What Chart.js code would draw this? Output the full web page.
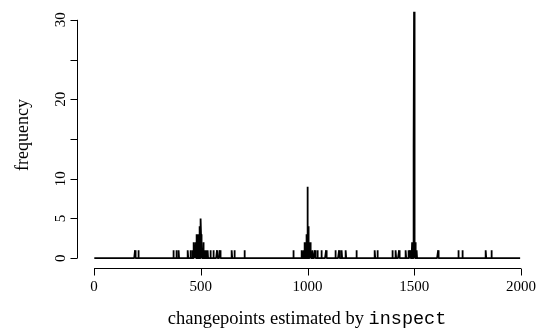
<!DOCTYPE html>
<html>
<head>
<meta charset="utf-8">
<script src="https://cdn.jsdelivr.net/npm/chart.js@4/dist/chart.umd.min.js"></script>
<style>
  html, body { margin: 0; padding: 0; background: #fff; }
  #wrap { width: 537px; height: 331px; position: relative; }
</style>
</head>
<body>
<div id="wrap"><canvas id="c"></canvas></div>
<script>
// Estimated changepoint locations and how often each was estimated
const positions = [192, 208, 373, 385, 397, 440, 452, 462, 468, 473, 477, 480, 484, 487, 490, 493, 496, 498, 500, 501, 503, 505, 508, 512, 516, 520, 527, 533, 545, 560, 576, 590, 646, 657, 704,
  935, 974, 980, 986, 990, 994, 997, 999, 1000, 1001, 1003, 1005, 1008, 1012, 1016, 1025, 1035, 1046, 1066, 1087, 1130, 1148, 1161, 1180, 1230,
  1316, 1327, 1399, 1414, 1429, 1461, 1472, 1481, 1486, 1490, 1493, 1496, 1497, 1498, 1499, 1501, 1503, 1505, 1508, 1512, 1612, 1706, 1727, 1836, 1863];
const counts = [1, 1, 1, 1, 1, 1, 1, 1, 2, 1, 2, 3, 2, 3, 2, 3, 4, 3, 5, 3, 2, 2, 1, 2, 1, 1, 1, 1, 1, 1, 1, 1, 1, 1, 1,
  1, 1, 1, 2, 2, 3, 3, 4, 9, 5, 4, 3, 2, 2, 1, 1, 1, 1, 1, 1, 1, 1, 1, 1, 1,
  1, 1, 1, 1, 1, 1, 1, 1, 1, 2, 2, 4, 2, 14, 31, 8, 2, 2, 1, 1, 1, 1, 1, 1, 1];
const nLocations = 2000;
const xTicks = [0, 500, 1000, 1500, 2000];
const yTicks = [0, 5, 10, 15, 20, 25, 30];
const yTickLabels = ['0', '5', '10', '', '20', '', '30'];
const xTitle = 'changepoints estimated by ';
const xTitleCode = 'inspect';
const yTitle = 'frequency';

// frequency at every candidate location (zero where never estimated)
const freq = new Map(positions.map((p, i) => [p, counts[i]]));
const series = [];
for (let t = 1; t <= nLocations; t++) series.push({ x: t, y: freq.get(t) || 0 });

const serif = '"Liberation Serif", "DejaVu Serif", serif';
const mono = '"Liberation Mono", "DejaVu Sans Mono", monospace';
const tickFont = '15px ' + serif;
const titleSize = 18.5;

const rAxes = {
  id: 'rAxes',
  afterDraw(chart) {
    const ctx = chart.ctx, xs = chart.scales.x, ys = chart.scales.y, a = chart.chartArea;
    ctx.save();
    ctx.strokeStyle = '#000';
    ctx.fillStyle = '#000';
    ctx.lineWidth = 1;
    // x axis
    const ay = Math.round(a.bottom) + 0.5;
    const x0 = xs.getPixelForValue(xTicks[0]), x1 = xs.getPixelForValue(xTicks[xTicks.length - 1]);
    ctx.beginPath();
    ctx.moveTo(x0, ay); ctx.lineTo(x1, ay);
    xTicks.forEach(v => { const px = Math.round(xs.getPixelForValue(v)) + 0.5; ctx.moveTo(px, ay); ctx.lineTo(px, ay + 7); });
    ctx.stroke();
    ctx.font = tickFont;
    ctx.textAlign = 'center';
    ctx.textBaseline = 'middle';
    xTicks.forEach(v => ctx.fillText(String(v), xs.getPixelForValue(v), ay + 19));
    // x title (mixed fonts)
    ctx.font = titleSize + 'px ' + serif;
    const w1 = ctx.measureText(xTitle).width;
    ctx.font = titleSize + 'px ' + mono;
    const w2 = ctx.measureText(xTitleCode).width;
    const cx = (a.left + a.right) / 2;
    const sx = cx - (w1 + w2) / 2;
    ctx.textAlign = 'left';
    ctx.textBaseline = 'alphabetic';
    ctx.font = titleSize + 'px ' + serif;
    ctx.fillText(xTitle, sx, ay + 55);
    ctx.font = titleSize + 'px ' + mono;
    ctx.fillText(xTitleCode, sx + w1, ay + 55);
    // y axis
    const ax = Math.round(a.left) + 0.5;
    const y0 = ys.getPixelForValue(yTicks[0]), y1 = ys.getPixelForValue(yTicks[yTicks.length - 1]);
    ctx.beginPath();
    ctx.moveTo(ax, y0); ctx.lineTo(ax, y1);
    yTicks.forEach(v => { const py = Math.round(ys.getPixelForValue(v)) + 0.5; ctx.moveTo(ax, py); ctx.lineTo(ax - 7, py); });
    ctx.stroke();
    ctx.font = tickFont;
    ctx.textAlign = 'center';
    ctx.textBaseline = 'middle';
    yTicks.forEach((v, i) => {
      if (!yTickLabels[i]) return;
      ctx.save();
      ctx.translate(ax - 16, ys.getPixelForValue(v));
      ctx.rotate(-Math.PI / 2);
      ctx.fillText(yTickLabels[i], 0, 0);
      ctx.restore();
    });
    ctx.save();
    ctx.translate(ax - 54, (a.top + a.bottom) / 2);
    ctx.rotate(-Math.PI / 2);
    ctx.font = '18px ' + serif;
    ctx.fillText(yTitle, 0, 0);
    ctx.restore();
    ctx.restore();
  }
};

new Chart(document.getElementById('c'), {
  type: 'line',
  data: {
    datasets: [{
      data: series,
      borderColor: '#000',
      borderWidth: 1.8,
      borderJoinStyle: 'bevel',
      borderCapStyle: 'butt',
      pointRadius: 0,
      tension: 0,
      fill: false
    }]
  },
  options: {
    responsive: true,
    maintainAspectRatio: false,
    animation: false,
    layout: { padding: { left: 77, top: 2, right: 0, bottom: 63 } },
    plugins: { legend: { display: false }, tooltip: { enabled: false } },
    scales: {
      x: { type: 'linear', min: -80, max: 2075, display: false },
      y: { type: 'linear', min: -1.24, max: 32.24, display: false }
    }
  },
  plugins: [rAxes]
});
</script>
</body>
</html>
